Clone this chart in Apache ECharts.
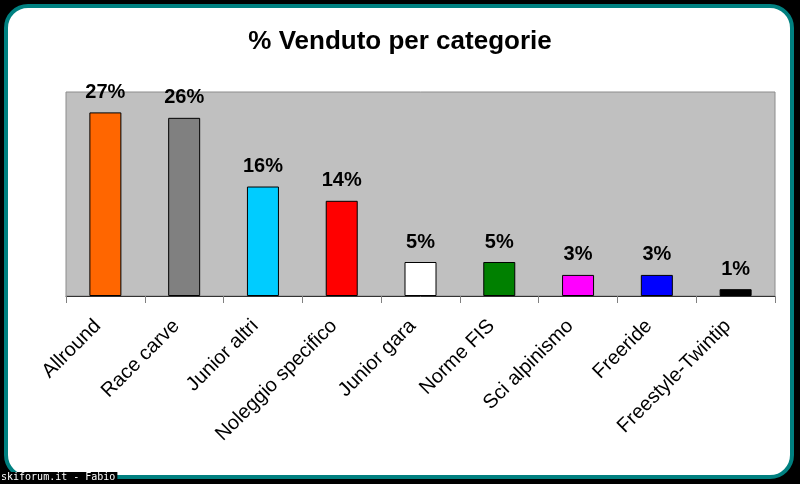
<!DOCTYPE html>
<html>
<head>
<meta charset="utf-8">
<script src="https://cdn.jsdelivr.net/npm/echarts@6/dist/echarts.min.js"></script>
<style>html,body{margin:0;padding:0;background:#000;}#c{width:800px;height:484px;}</style>
</head>
<body>
<div id="c"></div>
<script>
const categories = ['Allround', 'Race carve', 'Junior altri', 'Noleggio specifico', 'Junior gara', 'Norme FIS', 'Sci alpinismo', 'Freeride', 'Freestyle-Twintip'];
const values = [27.0, 26.2, 16.1, 14.0, 5.0, 5.0, 3.1, 3.1, 1.0];
const colors = ['#FF6600', '#808080', '#00CCFF', '#FF0000', '#FFFFFF', '#008000', '#FF00FF', '#0000FF', '#000000'];
const titleText = '% Venduto per categorie';
const footerText = 'skiforum.it - Fabio';

const chart = echarts.init(document.getElementById('c'));
chart.setOption({
  backgroundColor: '#000000',
  animation: false,
  title: {
    text: titleText,
    left: 'center',
    top: 24,
    textStyle: { fontFamily: 'Liberation Sans, Arial', fontSize: 26, fontWeight: 'bold', color: '#000' }
  },
  graphic: [
    { type: 'rect', z: -100, shape: { x: 6, y: 6, width: 786, height: 471, r: 22 },
      style: { fill: '#FFFFFF', stroke: '#008080', lineWidth: 4 } },
    { type: 'text', z: 100, left: 0, top: 472,
      style: { text: footerText, fill: '#FFFFFF', font: '10px DejaVu Sans Mono, monospace',
               backgroundColor: '#000000', padding: [0, 2, 1, 1] } }
  ],
  grid: {
    left: 66, right: 25, top: 92, bottom: 188,
    show: true, backgroundColor: '#C0C0C0', borderColor: '#8C8C8C', borderWidth: 1
  },
  xAxis: {
    type: 'category',
    data: categories,
    axisLine: { lineStyle: { color: '#333333', width: 1 } },
    axisTick: { show: true, length: 7, lineStyle: { color: '#808080' } },
    axisLabel: { rotate: 45, interval: 0, margin: 5, verticalAlign: 'top', padding: [0, 21, 0, 0],
                 fontFamily: 'Liberation Sans, Arial', fontSize: 20, color: '#000' }
  },
  yAxis: {
    type: 'value', min: 0, max: 30, show: false, splitLine: { show: false }
  },
  series: [{
    type: 'bar',
    barWidth: 32,
    data: values.map((v, i) => ({ value: v, itemStyle: { color: colors[i] } })),
    itemStyle: { borderColor: '#000000', borderWidth: 1 },
    label: {
      show: true, position: 'top', distance: 10,
      formatter: p => Math.round(p.value) + '%',
      fontFamily: 'Liberation Sans, Arial', fontSize: 20, fontWeight: 'bold', color: '#000'
    }
  }]
});
</script>
</body>
</html>
